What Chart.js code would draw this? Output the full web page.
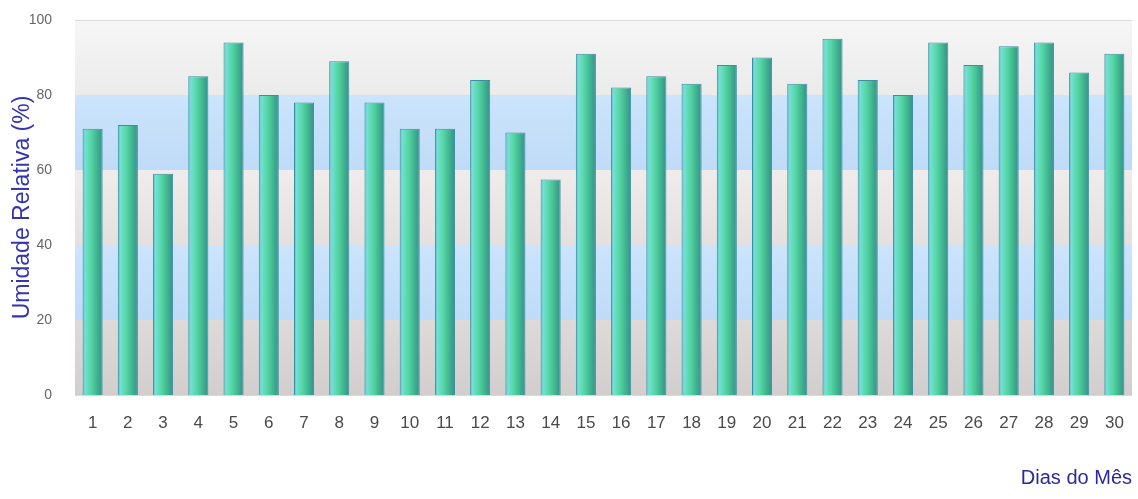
<!DOCTYPE html>
<html>
<head>
<meta charset="utf-8">
<script src="https://cdn.jsdelivr.net/npm/chart.js@4/dist/chart.umd.min.js"></script>
<style>
  html, body { margin: 0; padding: 0; background: #fff; }
  #wrap { width: 1138px; height: 499px; }
</style>
</head>
<body>
<div id="wrap"><canvas id="chart1"></canvas></div>
<script>
let dias = ["1","2","3","4","5","6","7","8","9","10","11","12","13","14","15",
            "16","17","18","19","20","21","22","23","24","25","26","27","28","29","30"];
let umidade = [71,72,59,85,94,80,78,89,78,71,71,84,70,57.5,91,
               82,85,83,88,90,83,95,84,80,94,88,93,94,86,91];
let faixas = [0,20,40,60,80,100];

// fundo em faixas alternadas
const bandas = {
  id: "bandas",
  beforeDatasetsDraw(chart){
    let ctx = chart.ctx, a = chart.chartArea, y = chart.scales.y;
    let cores = [["#dedada","#d2cece"],["#cce4fc","#bfdbf7"],["#f0ecec","#e4e0e0"],
                 ["#cce4fc","#bfdbf7"],["#f6f6f6","#ebebeb"]];
    ctx.save();
    for(let i=0;i<faixas.length-1;i++){
      let y0 = y.getPixelForValue(faixas[i+1]);
      let y1 = y.getPixelForValue(faixas[i]);
      let g = ctx.createLinearGradient(0,y0,0,y1);
      g.addColorStop(0,cores[i][0]);
      g.addColorStop(1,cores[i][1]);
      ctx.fillStyle = g;
      ctx.fillRect(a.left,y0,a.right-a.left,y1-y0);
    }
    ctx.strokeStyle = "#dcdcdc";
    ctx.lineWidth = 1;
    ctx.beginPath();
    ctx.moveTo(a.left,a.top+0.5);
    ctx.lineTo(a.right,a.top+0.5);
    ctx.stroke();
    ctx.strokeStyle = "#aeeaf0";
    ctx.beginPath();
    ctx.moveTo(a.left,a.bottom+0.5);
    ctx.lineTo(a.right,a.bottom+0.5);
    ctx.stroke();
    ctx.restore();
  }
};

function corBarra(c){
  let ch = c.chart, sx = ch.scales.x;
  if(!sx || !ch.chartArea) return "#4fcf9f";
  let cx = sx.getPixelForValue(c.dataIndex);
  let w = (sx.width/dias.length)*0.57;
  let g = ch.ctx.createLinearGradient(cx-w/2,0,cx+w/2,0);
  g.addColorStop(0,"#4bb6b4");
  g.addColorStop(0.12,"#74e0d6");
  g.addColorStop(0.45,"#52d4a0");
  g.addColorStop(0.8,"#3caa8c");
  g.addColorStop(1,"#3a8d96");
  return g;
}

let chart1 = new Chart(document.getElementById("chart1"),{
  type:"bar",
  data:{labels:dias,datasets:[{
    label:"Umidade Relativa",
    data:umidade,
    backgroundColor:corBarra,
    borderColor:"#3d8fa0",
    borderWidth:1,
    barPercentage:0.57,
    categoryPercentage:1
  }]},
  options:{
    responsive:true,
    maintainAspectRatio:false,
    animation:false,
    layout:{padding:{top:20,right:6,left:0,bottom:0}},
    plugins:{legend:{display:false},tooltip:{enabled:false}},
    scales:{
      x:{
        grid:{display:false},
        border:{display:false},
        ticks:{color:"#4a4a4a",font:{family:"Liberation Sans, Arial",size:17},padding:10,maxRotation:0,autoSkip:false},
        title:{display:true,text:"Dias do Mês",align:"end",color:"#2a2a9a",
               font:{family:"Liberation Sans, Arial",size:20},padding:{top:13,bottom:9}},
        afterFit(s){ s.height = 104; }
      },
      y:{
        min:0,max:100,
        grid:{display:false},
        border:{display:false},
        ticks:{stepSize:20,color:"#666",font:{family:"Liberation Sans, Arial",size:14},padding:15},
        title:{display:true,text:"Umidade Relativa (%)",color:"#3535b0",
               font:{family:"Liberation Sans, Arial",size:23},padding:{top:9,bottom:0}},
        afterFit(s){ s.width = 75; s.paddingTop = 0; s.paddingBottom = 0; }
      }
    }
  },
  plugins:[bandas]
});
</script>
</body>
</html>
